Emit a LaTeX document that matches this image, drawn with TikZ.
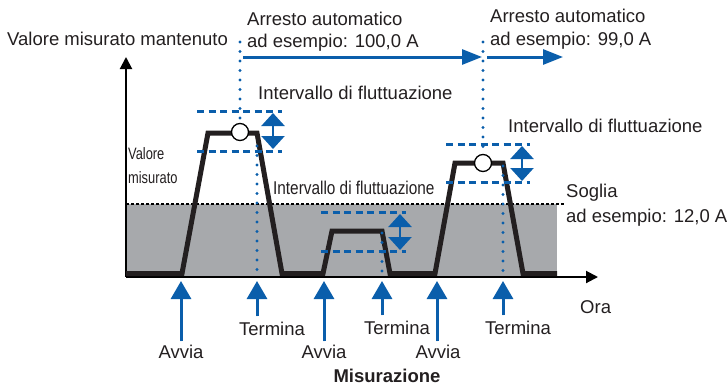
\documentclass[tikz,border=0pt]{standalone}
\usepackage{fontspec}
\setmainfont{Liberation Sans}
\usetikzlibrary{arrows.meta}
\definecolor{myblue}{HTML}{0A5EAB}
\definecolor{mygrey}{HTML}{A7A9AC}
\definecolor{txt}{HTML}{231F20}
\begin{document}
\begin{tikzpicture}[x=1pt,y=-1pt,
  lbl/.style={inner sep=0pt, anchor=base west, font=\fontsize{18.5}{22}\selectfont, text=txt},
  clbl/.style={lbl, anchor=base},
  axisline/.style={line width=2pt, draw=black, -{Triangle[length=12pt,width=12pt]}},
  wave/.style={line width=5pt, draw=txt, line join=miter},
  bdash/.style={draw=myblue, line width=3pt, dash pattern=on 7pt off 4.5pt},
  bdot/.style={draw=myblue, line width=3.2pt, line cap=round, dash pattern=on 0pt off 9.5pt},
  dblarrow/.style={draw=myblue, fill=myblue, line width=2.5pt, {Triangle[length=13pt,width=23pt]}-{Triangle[length=13pt,width=23pt]}},
  harrow/.style={draw=myblue, fill=myblue, line width=3pt, -{Triangle[length=20pt,width=15pt]}},
  uparrow/.style={draw=myblue, fill=myblue, line width=3pt, -{Triangle[length=18pt,width=20pt]}},
  mark circ/.style={circle, draw=black, fill=white, minimum size=17pt, inner sep=0pt, line width=1.3pt}]
\useasboundingbox (0,0) rectangle (727,386);

% grey area and threshold
\fill[mygrey] (126,204) rectangle (557,277);
\draw[dash pattern=on 3pt off 2pt, line width=1.2pt] (126,204) -- (565,204);

% axes
\coordinate (origin) at (126,277);
\coordinate (ytip) at (126,57);
\coordinate (xtip) at (598,277);
\draw[axisline] (origin) -- (ytip);
\draw[axisline] (origin) -- (xtip);

% waveform
\draw[wave] (126,273.5) -- (182,273.5) -- (208,133) -- (257,133) -- (282,273.5) -- (323,273.5)
  -- (332,231) -- (382,231) -- (390,273.5) -- (435,273.5) -- (455,163) -- (503,163)
  -- (523,273.5) -- (557,273.5);

% fluctuation bands
\draw[bdash] (197,111) -- (282,111);
\draw[bdash] (197,151) -- (282,151);
\draw[bdash] (321,212) -- (406,212);
\draw[bdash] (321,251) -- (406,251);
\draw[bdash] (446,144) -- (530,144);
\draw[bdash] (446,182) -- (530,182);

\coordinate (d1a) at (273,113); \coordinate (d1b) at (273,149);
\coordinate (d2a) at (400,214); \coordinate (d2b) at (400,250);
\coordinate (d3a) at (522,146); \coordinate (d3b) at (522,181);
\draw[dblarrow] (d1a) -- (d1b);
\draw[dblarrow] (d2a) -- (d2b);
\draw[dblarrow] (d3a) -- (d3b);

% circles
\node[mark circ] (c1) at (240,132) {};
\node[mark circ] (c2) at (483,163) {};

% dotted lines
\coordinate (top1) at (240,42);
\coordinate (top2) at (483,42);
\draw[bdot] (top1) -- (c1.north);
\draw[bdot] (top2) -- (c2.north);
\coordinate (e1) at (257,146); \coordinate (e1b) at (257,276);
\coordinate (e2) at (382,233); \coordinate (e2b) at (382,276);
\coordinate (e3) at (503,166); \coordinate (e3b) at (503,276);
\draw[bdot] (e1) -- (e1b);
\draw[bdot] (e2) -- (e2b);
\draw[bdot] (e3) -- (e3b);

% automatic stop arrows
\coordinate (h1s) at (243,57); \coordinate (h1e) at (482,57);
\coordinate (h2s) at (487,57); \coordinate (h2e) at (563,57);
\draw[harrow] (h1s) -- (h1e);
\draw[harrow] (h2s) -- (h2e);

% texts
\node[lbl] (ylab) at (7,45) {Valore misurato mantenuto};
\node[lbl] (ar1) at (247,25) {Arresto automatico};
\node[lbl] (ex1) at (247,47) {ad esempio: 100,0 A};
\node[lbl] (ar2) at (490,22) {Arresto automatico};
\node[lbl] (ex2) at (490,45) {ad esempio: 99,0 A};
\node[lbl] (iv1) at (258,99) {Intervallo di fluttuazione};
\node[lbl] (iv3) at (508,132) {Intervallo di fluttuazione};
\node[lbl, xscale=0.83] (iv2) at (273,194) {Intervallo di fluttuazione};
\node[lbl, font=\fontsize{16.5}{20}\selectfont, xscale=0.78] (vm1) at (128,159) {Valore};
\node[lbl, font=\fontsize{16.5}{20}\selectfont, xscale=0.78] (vm2) at (128,183) {misurato};
\node[lbl] (so1) at (566,197) {Soglia};
\node[lbl] (so2) at (566,222) {ad esempio: 12,0 A};
\node[lbl] (ora) at (580,313) {Ora};

% start / stop labels and arrows
\node[clbl] (av1) at (181,358) {Avvia};
\node[clbl] (av2) at (324,358) {Avvia};
\node[clbl] (av3) at (438,358) {Avvia};
\node[clbl] (te1) at (272,335) {Termina};
\node[clbl] (te2) at (397,334) {Termina};
\node[clbl] (te3) at (518,334) {Termina};
\node[clbl, font=\fontsize{18.5}{22}\selectfont\bfseries] (mis) at (387,382.5) {Misurazione};

\coordinate (p1) at (181,281);
\coordinate (p2) at (257,281);
\coordinate (p3) at (324,281);
\coordinate (p4) at (382,281);
\coordinate (p5) at (437,281);
\coordinate (p6) at (503,281);
\draw[uparrow, shorten <=3pt] (p1 |- av1.north) -- (p1);
\draw[uparrow, shorten <=5pt] (p2 |- te1.north) -- (p2);
\draw[uparrow, shorten <=3pt] (p3 |- av2.north) -- (p3);
\draw[uparrow, shorten <=5pt] (p4 |- te2.north) -- (p4);
\draw[uparrow, shorten <=3pt] (p5 |- av3.north) -- (p5);
\draw[uparrow, shorten <=5pt] (p6 |- te3.north) -- (p6);
\end{tikzpicture}
\end{document}
